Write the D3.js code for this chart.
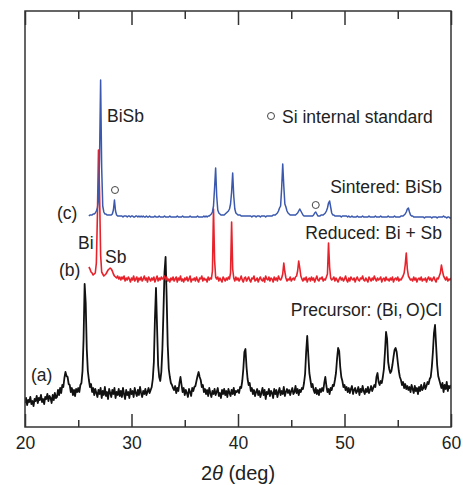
<!DOCTYPE html>
<html><head><meta charset="utf-8">
<script src="https://cdn.jsdelivr.net/npm/d3@7"></script>
<style>
body{margin:0;background:#fff;}
svg{display:block;font-family:"Liberation Sans",Arial,sans-serif;}
</style></head><body>
<svg id="chart" width="463" height="485"></svg>
<script>
// x-axis
const xDomain = [20, 60];
const majorTicks = [20, 30, 40, 50, 60];
const minorTicks = [25, 35, 45, 55];
const xTitle = "2θ (deg)";

// each pattern: start angle, step (deg), vertical offset, intensities (arb. units)
const aStart = 20.0, aStep = 0.1, aOffset = 20;
const aValues = [
4,9,2,7,5,10,3,6,1,8,
6,11,4,9,7,12,5,8,3,10,
8,13,6,11,9,4,12,7,14,9,
10,17,12,19,14,22,20,29,35,31,
30,23,22,15,19,12,17,11,18,15,
19,15,22,24,36,68,123,104,58,36,
27,20,23,15,19,12,18,14,10,17,
13,19,9,16,12,20,11,15,8,18,
14,10,17,13,19,9,15,12,18,11,
16,10,19,13,8,17,12,15,9,18,
13,16,10,19,14,11,17,12,20,14,
10,16,13,18,12,15,19,14,17,20,
28,45,88,119,80,42,30,26,35,58,
95,135,150,110,62,38,30,24,22,19,
17,21,14,19,16,24,30,22,15,19,
12,17,14,10,18,15,11,19,16,20,
21,26,31,35,30,27,20,22,15,18,
13,17,11,19,14,10,16,13,18,12,
15,19,11,14,9,17,13,18,12,16,
10,18,14,11,17,13,19,12,16,15,
17,14,20,19,26,38,55,58,40,28,
22,24,16,19,13,17,11,15,18,12,
16,10,14,19,12,17,8,15,13,18,
11,16,14,9,18,13,17,10,15,19,
12,16,13,20,11,15,18,14,17,12,
16,19,13,15,21,14,18,12,17,15,
19,18,24,33,55,71,52,34,27,20,
23,17,14,19,13,17,12,18,15,19,
16,24,30,21,15,18,13,19,17,22,
21,27,34,48,59,56,40,30,26,20,
22,17,20,15,19,14,18,21,13,17,
19,14,16,20,12,18,15,21,16,13,
18,15,20,14,17,21,16,19,22,20,
30,34,25,22,26,24,30,38,55,75,
68,45,38,34,36,42,50,57,59,55,
45,36,30,27,22,25,19,23,18,21,
17,20,15,22,18,14,21,16,19,13,
20,16,22,17,19,24,18,21,25,23,
28,30,40,55,74,82,62,42,31,27,
23,19,24,15,22,18,25,16,21,19,
22];

const bStart = 26.0, bStep = 0.1, bOffset = 142;
const bValues = [
18,16,13,12,10,11,12,22,70,135,
92,30,13,11,9,10,11,13,15,16,
17,16,14,11,9,8,7,9,6,8,
5,8,6,9,4,7,5,8,6,3,
7,5,9,4,6,8,3,7,5,8,
4,6,9,5,7,3,8,6,4,7,
5,8,3,6,9,4,7,5,8,6,
7,9,5,8,4,6,3,7,5,8,
4,6,8,3,7,5,9,4,6,3,
7,5,8,4,6,9,3,6,5,7,
4,8,5,3,7,6,9,4,7,5,
6,3,8,5,7,6,14,76,25,8,
6,8,4,7,5,3,8,6,4,7,
5,8,6,12,63,16,7,4,8,5,
7,4,6,9,5,3,7,8,4,6,
8,5,3,7,6,9,4,5,7,3,
6,8,5,4,7,3,9,6,5,8,
4,7,6,3,8,5,7,4,9,6,
5,7,11,22,13,7,4,6,5,8,
4,6,7,5,8,9,14,24,17,9,
6,4,7,5,8,3,6,7,4,8,
5,7,3,6,9,5,4,7,6,8,
4,6,5,8,11,42,18,7,5,6,
8,4,7,5,3,6,8,5,7,4,
6,9,5,3,7,4,8,6,5,7,
3,6,8,5,4,7,6,9,5,4,
7,5,3,8,6,4,7,5,9,6,
4,7,5,6,8,3,6,7,4,8,
5,6,4,7,5,8,3,6,7,5,
8,4,6,5,7,9,12,20,32,16,
9,7,5,6,4,8,5,7,3,6,
7,5,8,4,6,5,7,3,6,8,
5,7,4,6,8,5,3,7,6,9,
12,20,14,9,7,5,8,4,6,5,
7];

const cStart = 26.0, cStep = 0.1, cOffset = 209;
const cValues = [
2,3,3,3,4,4,5,7,10,18,
60,138,50,12,6,4,4,3,3,3,
3,3,4,8,18,7,3,2,2,2,
2,2,1,2,2,2,1,2,2,1,
2,2,1,1,2,2,1,2,1,2,
1,2,1,1,2,1,1,2,1,1,
1,1,2,1,1,1,2,1,1,1,
1,2,1,1,1,1,2,1,1,1,
1,1,1,2,1,1,1,1,2,1,
1,1,1,1,1,2,1,1,1,1,
1,1,2,1,1,1,1,1,2,1,
2,1,2,2,3,4,6,12,30,50,
22,8,5,4,3,3,3,3,4,5,
6,7,9,14,26,45,22,9,5,4,
3,3,3,2,2,2,2,2,2,2,
2,2,2,1,2,2,2,1,2,2,
2,1,2,2,2,2,1,2,2,2,
2,2,2,3,3,3,4,5,7,10,
12,30,54,32,14,11,7,5,4,3,
3,3,3,3,3,4,5,7,9,7,
5,3,2,2,2,2,2,2,2,2,
2,3,5,6,4,2,2,2,3,3,
3,4,5,7,10,15,17,11,5,3,
3,2,2,2,2,2,2,1,2,2,
2,2,2,1,2,1,1,2,1,1,
1,1,2,1,1,1,1,2,1,1,
1,1,1,2,1,1,1,1,1,2,
1,1,1,1,2,1,1,1,1,1,
1,2,1,1,1,1,1,2,1,1,
1,1,1,2,2,2,3,4,6,9,
10,6,3,2,2,1,1,1,1,1,
1,1,1,1,1,0,1,1,1,1,
1,1,0,1,1,1,1,0,1,1,
1,1,1,2,1,1,0,1,1,0,
0];

// Si internal standard markers (angle, height above blue baseline)
const siAngles = [28.45, 47.3];
const siHeights = [28, 13];

// text labels
const curveLabels = ["(a)", "(b)", "(c)"];
const sampleNames = ["Precursor: (Bi,\u2009O)Cl", "Reduced: Bi + Sb", "Sintered: BiSb"];
const phaseLabels = ["Bi", "Sb", "BiSb"];
const legendText = "Si internal standard";

const colors = {a: "#111111", b: "#e8222b", c: "#3a58ad", text: "#222222", axis: "#333333"};

const svg = d3.select("#chart");
const pL = 25, pR = 451, pT = 11, pB = 427;
const x = d3.scaleLinear().domain(xDomain).range([pL, pR]);
const y = d3.scaleLinear().domain([0, pB - pT]).range([pB, pT]);

function series(start, step, offset, vals) {
  return vals.map((v, i) => ({t: start + i * step, v: offset + v}));
}
const line = d3.line().x(d => x(d.t)).y(d => y(d.v));

const clipId = "plotclip";
svg.append("clipPath").attr("id", clipId).append("rect")
  .attr("x", pL).attr("y", pT).attr("width", pR - pL).attr("height", pB - pT);

const g = svg.append("g").attr("clip-path", `url(#${clipId})`);
g.append("path").datum(series(aStart, aStep, aOffset, aValues))
  .attr("d", line).attr("fill", "none").attr("stroke", colors.a).attr("stroke-width", 1.8).attr("stroke-linejoin", "round");
g.append("path").datum(series(bStart, bStep, bOffset, bValues))
  .attr("d", line).attr("fill", "none").attr("stroke", colors.b).attr("stroke-width", 1.6).attr("stroke-linejoin", "round");
g.append("path").datum(series(cStart, cStep, cOffset, cValues))
  .attr("d", line).attr("fill", "none").attr("stroke", colors.c).attr("stroke-width", 1.5).attr("stroke-linejoin", "round");

// Si markers
svg.selectAll("circle.si").data(siAngles).enter().append("circle")
  .attr("class", "si")
  .attr("cx", d => x(d)).attr("cy", (d, i) => y(cOffset + siHeights[i]))
  .attr("r", 3.5).attr("fill", "none").attr("stroke", "#444").attr("stroke-width", 1);

// axes
const axG = svg.append("g");
function addAxis(axisFn, ticks, size, ypos, labels) {
  const a = axisFn(x).tickValues(ticks).tickSize(size).tickSizeOuter(0);
  if (!labels) a.tickFormat("");
  const ag = axG.append("g").attr("transform", `translate(0,${ypos})`).call(a);
  ag.select(".domain").remove();
  ag.selectAll(".tick line").attr("stroke", colors.axis).attr("stroke-width", 1.5);
  return ag;
}
const bot = addAxis(d3.axisBottom, majorTicks, -13, pB, true);
bot.selectAll(".tick text").attr("y", 22).attr("dy", 0)
  .attr("font-size", "17.5px").attr("fill", colors.text)
  .attr("font-family", "'Liberation Sans', Arial, sans-serif");
addAxis(d3.axisBottom, minorTicks, -7, pB, false);
addAxis(d3.axisTop, majorTicks, -14, pT, false);
addAxis(d3.axisTop, minorTicks, -8, pT, false);

svg.append("rect").attr("x", pL).attr("y", pT).attr("width", pR - pL).attr("height", pB - pT)
  .attr("fill", "none").attr("stroke", colors.axis).attr("stroke-width", 1.5);

// axis title
const tt = svg.append("text").attr("x", (pL + pR) / 2).attr("y", 480)
  .attr("text-anchor", "middle").attr("font-size", "20px").attr("fill", colors.text);
tt.append("tspan").text("2");
tt.append("tspan").attr("font-style", "italic").text("θ");
tt.append("tspan").text(" (deg)");

// labels
function label(txt, xp, yp, anchor) {
  svg.append("text").attr("x", xp).attr("y", yp).attr("text-anchor", anchor)
    .attr("font-size", "17.5px").attr("fill", colors.text).text(txt);
}
label(curveLabels[0], 31, 381, "start");
label(curveLabels[1], 59, 276, "start");
label(curveLabels[2], 57, 219, "start");
label(sampleNames[0], 442, 316, "end");
label(sampleNames[1], 442, 239, "end");
label(sampleNames[2], 442, 193, "end");
label(phaseLabels[0], 78, 249, "start");
label(phaseLabels[1], 105, 263, "start");
label(phaseLabels[2], 107, 122, "start");
svg.append("circle").attr("cx", 271).attr("cy", 116).attr("r", 3.5)
  .attr("fill", "none").attr("stroke", "#444").attr("stroke-width", 1);
label(legendText, 282, 123, "start");
</script>
</body></html>
